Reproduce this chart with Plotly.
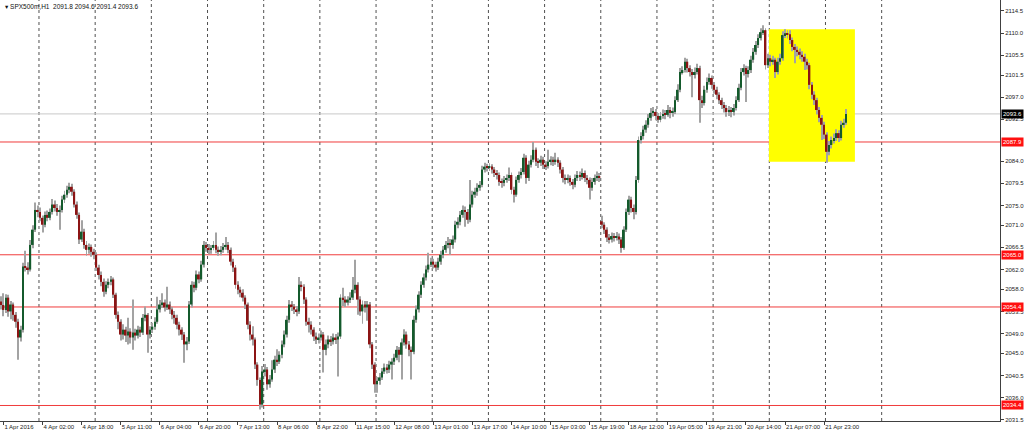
import plotly.graph_objects as go

symbol = "SPX500m,H1"

# H1 bars, one row per trading day (1 Apr partial, 22 Apr partial)
open_ = [
    2055.5, 2054.8, 2053.8, 2056.3, 2053.5, 2054.9, 2052.8, 2051.4, 2048.2, 2049.8, 2062.6, 2062.4, 2062.0, 2067.0, 2070.1, 2074.1,
    2073.7, 2072.5, 2071.1, 2073.1, 2072.5, 2073.7, 2075.2, 2074.5, 2073.7, 2074.1, 2076.2, 2077.2, 2078.2, 2078.8, 2077.8, 2075.2, 2073.1, 2068.1, 2069.7, 2067.0, 2066.0, 2066.6, 2065.6,
    2065.0, 2062.4, 2060.9, 2059.5, 2057.5, 2058.9, 2059.5, 2060.0, 2056.9, 2052.8, 2051.4, 2048.8, 2049.8, 2048.6, 2049.4, 2048.2, 2049.2, 2048.6, 2049.8, 2049.2, 2052.2, 2052.8, 2048.8,
    2049.8, 2050.4, 2051.4, 2053.9, 2054.9, 2055.3, 2054.3, 2054.9, 2053.9, 2052.8, 2052.2, 2050.8, 2049.8, 2048.8, 2046.8, 2047.4, 2054.9, 2058.9, 2058.3, 2061.0, 2060.0, 2063.0, 2067.0,
    2066.4, 2066.0, 2066.4, 2067.0, 2066.0, 2065.6, 2066.0, 2066.6, 2067.0, 2066.0, 2063.6, 2062.4, 2058.9, 2057.9, 2057.3, 2056.3, 2054.9, 2050.8, 2048.8, 2047.8, 2042.7, 2039.6, 2034.6,
    2041.3, 2041.7, 2038.7, 2039.7, 2041.7, 2043.7, 2043.3, 2044.7, 2046.8, 2048.8, 2051.8, 2054.9, 2054.5, 2053.9, 2053.5, 2058.9, 2058.5, 2055.9, 2051.4, 2050.8, 2049.8, 2048.4, 2047.8,
    2048.2, 2048.8, 2045.7, 2046.8, 2047.8, 2047.4, 2048.2, 2047.8, 2048.4, 2056.3, 2055.9, 2055.3, 2055.9, 2056.3, 2057.9, 2058.9, 2055.9, 2053.5, 2054.9, 2054.3, 2054.9, 2046.8, 2042.7,
    2038.7, 2039.4, 2040.1, 2041.3, 2042.1, 2041.7, 2042.7, 2043.3, 2044.1, 2045.7, 2044.7, 2047.2, 2048.8, 2046.8, 2045.7, 2045.3, 2051.8, 2053.9, 2056.9, 2058.9, 2060.4, 2062.0, 2063.0,
    2063.6, 2063.0, 2062.4, 2063.6, 2065.0, 2066.0, 2067.0, 2067.4, 2067.0, 2068.1, 2071.1, 2071.7, 2073.1, 2074.1, 2073.7, 2072.1, 2075.2, 2077.2, 2077.8, 2078.6, 2079.2, 2082.3, 2082.9,
    2082.7, 2082.9, 2082.3, 2081.6, 2081.2, 2079.8, 2079.6, 2080.2, 2080.6, 2081.2, 2078.2, 2077.2, 2080.2, 2081.2, 2081.8, 2084.7, 2080.6, 2083.3, 2084.3, 2086.3, 2083.9, 2083.7, 2084.3,
    2083.3, 2083.0, 2083.9, 2084.3, 2083.9, 2084.3, 2083.7, 2082.3, 2080.6, 2080.2, 2080.6, 2079.8, 2079.2, 2080.6, 2081.2, 2080.8, 2081.6, 2080.6, 2080.2, 2078.6, 2079.8, 2080.6, 2081.0,
    2071.8, 2071.1, 2070.1, 2068.5, 2068.1, 2068.8, 2068.5, 2068.7, 2068.1, 2066.4, 2070.1, 2073.7, 2076.2, 2074.5, 2073.7, 2080.2, 2088.3, 2089.1, 2090.4, 2091.4, 2092.8, 2093.8, 2094.0,
    2093.2, 2092.4, 2093.2, 2093.6, 2093.4, 2094.4, 2093.8, 2094.0, 2096.4, 2098.5, 2102.1, 2102.5, 2104.2, 2102.9, 2102.1, 2101.5, 2102.1, 2102.9, 2096.4, 2095.8, 2098.5, 2100.1, 2100.9,
    2099.5, 2098.5, 2097.5, 2096.4, 2095.4, 2094.8, 2094.0, 2094.4, 2094.0, 2094.8, 2096.4, 2098.9, 2102.1, 2102.9, 2101.7, 2102.5, 2104.6, 2106.2, 2107.6, 2109.0, 2110.2, 2110.6, 2103.5,
    2104.9, 2104.2, 2104.6, 2102.1, 2104.2, 2104.9, 2109.6, 2110.0, 2109.8, 2108.6, 2107.2, 2106.6, 2106.2, 2105.6, 2105.2, 2104.2, 2103.5, 2099.5, 2097.5, 2096.4, 2094.4, 2092.8, 2091.4,
    2089.4, 2085.9, 2087.3, 2088.3, 2088.7, 2089.7, 2088.7, 2091.4, 2091.8,
]

high = [
    2056.6, 2057.2, 2057.0, 2056.9, 2055.6, 2055.3, 2053.4, 2052.0, 2050.6, 2063.4, 2065.8, 2063.5, 2068.0, 2071.0, 2075.6, 2075.0,
    2074.6, 2073.0, 2073.8, 2074.0, 2074.4, 2076.3, 2076.0, 2075.3, 2075.0, 2077.0, 2078.0, 2079.0, 2079.6, 2079.4, 2078.3, 2075.8, 2073.6, 2072.0, 2070.3, 2067.8, 2067.3, 2067.1, 2066.2,
    2065.5, 2063.0, 2061.6, 2060.2, 2059.6, 2060.2, 2060.7, 2060.4, 2057.3, 2053.5, 2051.9, 2050.9, 2050.4, 2052.2, 2050.1, 2055.9, 2050.0, 2050.6, 2050.4, 2053.0, 2054.5, 2053.2, 2050.5,
    2051.2, 2052.3, 2056.5, 2055.8, 2057.2, 2055.9, 2058.5, 2055.5, 2054.4, 2053.6, 2052.8, 2051.4, 2050.3, 2049.3, 2048.3, 2055.6, 2059.6, 2059.5, 2061.8, 2061.6, 2063.8, 2067.8, 2067.6,
    2067.2, 2067.0, 2067.8, 2069.5, 2066.7, 2066.8, 2067.4, 2068.6, 2067.6, 2066.5, 2064.2, 2062.9, 2059.6, 2058.5, 2058.0, 2056.8, 2055.3, 2051.5, 2050.5, 2048.2, 2043.2, 2040.1, 2042.4,
    2042.8, 2042.2, 2040.6, 2043.6, 2044.5, 2045.8, 2045.4, 2047.6, 2049.6, 2052.6, 2055.8, 2055.6, 2055.0, 2054.6, 2060.5, 2059.6, 2059.0, 2056.4, 2052.2, 2051.5, 2050.3, 2049.2, 2049.0,
    2049.6, 2049.3, 2047.8, 2048.6, 2048.5, 2049.0, 2048.9, 2049.2, 2057.0, 2058.3, 2056.6, 2056.6, 2057.4, 2060.5, 2064.0, 2059.4, 2056.6, 2055.7, 2055.6, 2055.6, 2055.4, 2047.3, 2043.2,
    2040.2, 2041.0, 2042.0, 2042.9, 2042.8, 2043.5, 2044.0, 2044.9, 2046.5, 2046.3, 2048.0, 2049.9, 2049.4, 2047.5, 2046.4, 2052.6, 2054.7, 2057.6, 2059.6, 2061.2, 2062.8, 2065.4, 2064.4,
    2064.2, 2063.6, 2064.4, 2065.8, 2066.8, 2067.8, 2068.6, 2068.2, 2068.9, 2071.9, 2072.6, 2073.9, 2075.0, 2074.8, 2074.3, 2080.2, 2078.0, 2078.6, 2079.5, 2080.0, 2083.1, 2083.7, 2083.5,
    2083.6, 2083.4, 2082.8, 2082.2, 2081.7, 2080.5, 2081.0, 2081.3, 2082.7, 2081.7, 2078.8, 2080.9, 2081.9, 2082.6, 2085.5, 2085.2, 2084.1, 2085.2, 2087.9, 2086.8, 2084.6, 2085.1, 2084.9,
    2084.0, 2086.3, 2085.0, 2084.9, 2085.7, 2084.8, 2084.2, 2082.8, 2081.3, 2081.3, 2081.1, 2080.4, 2081.3, 2082.0, 2081.9, 2082.5, 2082.1, 2081.2, 2080.7, 2080.6, 2081.3, 2081.9, 2081.6,
    2072.9, 2071.6, 2070.6, 2069.2, 2069.5, 2069.4, 2069.6, 2069.3, 2068.6, 2070.8, 2074.4, 2077.0, 2076.8, 2075.2, 2081.0, 2089.0, 2089.9, 2091.2, 2092.3, 2093.6, 2094.8, 2095.0, 2094.6,
    2093.8, 2094.0, 2094.5, 2094.4, 2095.4, 2095.0, 2094.9, 2097.2, 2099.6, 2102.9, 2103.3, 2105.0, 2104.8, 2103.5, 2102.7, 2103.0, 2103.8, 2103.4, 2097.3, 2099.3, 2101.0, 2101.8, 2101.4,
    2100.1, 2099.1, 2098.0, 2096.9, 2096.0, 2095.4, 2095.2, 2095.0, 2095.6, 2097.2, 2099.7, 2102.9, 2103.7, 2103.4, 2103.3, 2105.4, 2107.0, 2108.4, 2109.8, 2111.0, 2111.6, 2111.0, 2105.8,
    2105.6, 2105.4, 2105.0, 2105.0, 2105.8, 2110.4, 2110.8, 2110.6, 2110.6, 2109.1, 2107.8, 2107.3, 2106.9, 2106.3, 2105.8, 2104.8, 2104.0, 2100.1, 2098.2, 2096.9, 2095.0, 2093.4, 2092.0,
    2089.9, 2088.1, 2089.0, 2089.6, 2090.5, 2090.3, 2092.2, 2092.6, 2094.6,
]

low = [
    2053.9, 2052.5, 2053.2, 2052.4, 2051.9, 2051.6, 2050.2, 2043.7, 2047.4, 2049.2, 2061.6, 2061.0, 2061.6, 2066.3, 2069.6, 2072.6,
    2071.8, 2069.5, 2070.6, 2071.8, 2072.0, 2073.2, 2073.8, 2072.9, 2070.1, 2073.6, 2075.5, 2076.6, 2077.5, 2077.0, 2074.6, 2072.3, 2067.2, 2067.6, 2066.2, 2064.8, 2065.2, 2064.6, 2064.1,
    2061.7, 2060.0, 2058.6, 2056.5, 2057.0, 2058.2, 2058.8, 2056.2, 2052.0, 2049.9, 2047.6, 2047.8, 2047.3, 2046.8, 2047.0, 2045.7, 2047.6, 2048.0, 2048.3, 2048.7, 2051.5, 2045.1, 2048.0,
    2049.1, 2049.8, 2051.0, 2053.3, 2054.2, 2053.5, 2053.8, 2053.0, 2051.9, 2051.0, 2049.9, 2048.6, 2047.7, 2043.1, 2045.6, 2046.9, 2054.3, 2057.4, 2057.8, 2059.2, 2059.5, 2062.4, 2065.6,
    2065.1, 2065.2, 2065.9, 2065.3, 2064.8, 2064.9, 2065.4, 2066.0, 2065.3, 2062.8, 2061.5, 2058.1, 2057.0, 2056.4, 2055.5, 2054.0, 2049.9, 2047.6, 2046.6, 2041.8, 2038.4, 2033.6, 2034.0,
    2040.3, 2037.6, 2038.0, 2039.2, 2041.0, 2042.4, 2042.8, 2044.0, 2046.2, 2048.2, 2051.2, 2053.6, 2053.0, 2052.5, 2053.0, 2057.6, 2055.0, 2050.6, 2049.2, 2048.8, 2047.5, 2046.9, 2047.0,
    2047.6, 2041.1, 2044.6, 2046.0, 2046.5, 2046.8, 2046.9, 2040.3, 2047.9, 2054.6, 2054.4, 2054.7, 2055.2, 2055.8, 2057.2, 2052.8, 2052.6, 2051.0, 2053.3, 2051.6, 2046.0, 2041.8, 2037.0,
    2037.0, 2038.6, 2039.6, 2040.8, 2040.9, 2041.0, 2039.7, 2042.6, 2043.6, 2043.2, 2039.7, 2046.6, 2045.9, 2044.4, 2039.7, 2044.8, 2051.2, 2053.3, 2056.2, 2058.3, 2059.8, 2061.4, 2062.5,
    2062.2, 2061.6, 2061.9, 2063.0, 2064.3, 2065.4, 2066.3, 2065.0, 2066.2, 2067.5, 2070.4, 2071.0, 2072.5, 2070.7, 2071.3, 2071.6, 2074.6, 2076.6, 2077.0, 2078.0, 2078.7, 2081.7, 2081.9,
    2082.0, 2081.5, 2080.8, 2080.3, 2079.0, 2078.6, 2078.9, 2079.6, 2080.0, 2077.3, 2075.6, 2076.8, 2079.6, 2080.5, 2081.3, 2079.4, 2080.0, 2082.7, 2083.8, 2083.0, 2082.6, 2083.0, 2082.4,
    2082.2, 2082.5, 2083.2, 2083.0, 2083.3, 2082.8, 2081.5, 2079.7, 2079.3, 2079.5, 2079.0, 2078.3, 2078.7, 2080.0, 2080.0, 2080.3, 2079.8, 2079.3, 2076.2, 2078.0, 2079.2, 2080.0, 2079.8,
    2070.4, 2069.2, 2067.6, 2067.3, 2067.5, 2067.7, 2067.9, 2067.2, 2065.4, 2066.0, 2069.6, 2073.1, 2073.6, 2072.2, 2073.2, 2079.6, 2087.6, 2088.4, 2089.8, 2090.8, 2092.2, 2093.1, 2092.3,
    2091.8, 2091.9, 2092.6, 2092.5, 2093.0, 2092.7, 2093.0, 2093.6, 2096.0, 2098.0, 2101.6, 2102.0, 2102.0, 2101.2, 2097.0, 2100.8, 2101.6, 2091.8, 2094.8, 2095.3, 2097.9, 2099.5, 2098.7,
    2097.7, 2096.6, 2095.6, 2094.6, 2093.9, 2093.0, 2093.2, 2092.9, 2093.3, 2094.3, 2096.0, 2098.4, 2101.4, 2096.0, 2101.0, 2101.9, 2104.0, 2105.6, 2107.0, 2108.5, 2109.6, 2102.6, 2102.9,
    2103.3, 2103.6, 2100.9, 2101.6, 2103.6, 2104.4, 2109.0, 2108.9, 2107.8, 2106.3, 2103.9, 2105.3, 2104.7, 2104.2, 2102.5, 2102.6, 2098.6, 2096.6, 2095.4, 2093.5, 2091.9, 2088.3, 2088.5,
    2083.7, 2085.2, 2086.6, 2087.6, 2088.1, 2087.9, 2088.2, 2090.8, 2091.4,
]

close = [
    2054.8, 2053.8, 2056.3, 2053.5, 2054.9, 2052.8, 2051.4, 2048.2, 2049.8, 2062.6, 2062.4, 2062.0, 2067.0, 2070.1, 2074.1, 2073.7,
    2072.5, 2071.1, 2073.1, 2072.5, 2073.7, 2075.2, 2074.5, 2073.7, 2074.1, 2076.2, 2077.2, 2078.2, 2078.8, 2077.8, 2075.2, 2073.1, 2068.1, 2069.7, 2067.0, 2066.0, 2066.6, 2065.6, 2065.0,
    2062.4, 2060.9, 2059.5, 2057.5, 2058.9, 2059.5, 2060.0, 2056.9, 2052.8, 2051.4, 2048.8, 2049.8, 2048.6, 2049.4, 2048.2, 2049.2, 2048.6, 2049.8, 2049.2, 2052.2, 2052.8, 2048.8, 2049.8,
    2050.4, 2051.4, 2053.9, 2054.9, 2055.3, 2054.3, 2054.9, 2053.9, 2052.8, 2052.2, 2050.8, 2049.8, 2048.8, 2046.8, 2047.4, 2054.9, 2058.9, 2058.3, 2061.0, 2060.0, 2063.0, 2067.0, 2066.4,
    2066.0, 2066.4, 2067.0, 2066.0, 2065.6, 2066.0, 2066.6, 2067.0, 2066.0, 2063.6, 2062.4, 2058.9, 2057.9, 2057.3, 2056.3, 2054.9, 2050.8, 2048.8, 2047.8, 2042.7, 2039.6, 2034.6, 2041.3,
    2041.7, 2038.7, 2039.7, 2041.7, 2043.7, 2043.3, 2044.7, 2046.8, 2048.8, 2051.8, 2054.9, 2054.5, 2053.9, 2053.5, 2058.9, 2058.5, 2055.9, 2051.4, 2050.8, 2049.8, 2048.4, 2047.8, 2048.2,
    2048.8, 2045.7, 2046.8, 2047.8, 2047.4, 2048.2, 2047.8, 2048.4, 2056.3, 2055.9, 2055.3, 2055.9, 2056.3, 2057.9, 2058.9, 2055.9, 2053.5, 2054.9, 2054.3, 2054.9, 2046.8, 2042.7, 2038.7,
    2039.4, 2040.1, 2041.3, 2042.1, 2041.7, 2042.7, 2043.3, 2044.1, 2045.7, 2044.7, 2047.2, 2048.8, 2046.8, 2045.7, 2045.3, 2051.8, 2053.9, 2056.9, 2058.9, 2060.4, 2062.0, 2063.0, 2063.6,
    2063.0, 2062.4, 2063.6, 2065.0, 2066.0, 2067.0, 2067.4, 2067.0, 2068.1, 2071.1, 2071.7, 2073.1, 2074.1, 2073.7, 2072.1, 2075.2, 2077.2, 2077.8, 2078.6, 2079.2, 2082.3, 2082.9, 2082.7,
    2082.9, 2082.3, 2081.6, 2081.2, 2079.8, 2079.6, 2080.2, 2080.6, 2081.2, 2078.2, 2077.2, 2080.2, 2081.2, 2081.8, 2084.7, 2080.6, 2083.3, 2084.3, 2086.3, 2083.9, 2083.7, 2084.3, 2083.3,
    2083.0, 2083.9, 2084.3, 2083.9, 2084.3, 2083.7, 2082.3, 2080.6, 2080.2, 2080.6, 2079.8, 2079.2, 2080.6, 2081.2, 2080.8, 2081.6, 2080.6, 2080.2, 2078.6, 2079.8, 2080.6, 2081.0, 2080.6,
    2071.1, 2070.1, 2068.5, 2068.1, 2068.8, 2068.5, 2068.7, 2068.1, 2066.4, 2070.1, 2073.7, 2076.2, 2074.5, 2073.7, 2080.2, 2088.3, 2089.1, 2090.4, 2091.4, 2092.8, 2093.8, 2094.0, 2093.2,
    2092.4, 2093.2, 2093.6, 2093.4, 2094.4, 2093.8, 2094.0, 2096.4, 2098.5, 2102.1, 2102.5, 2104.2, 2102.9, 2102.1, 2101.5, 2102.1, 2102.9, 2096.4, 2095.8, 2098.5, 2100.1, 2100.9, 2099.5,
    2098.5, 2097.5, 2096.4, 2095.4, 2094.8, 2094.0, 2094.4, 2094.0, 2094.8, 2096.4, 2098.9, 2102.1, 2102.9, 2101.7, 2102.5, 2104.6, 2106.2, 2107.6, 2109.0, 2110.2, 2110.6, 2103.5, 2104.9,
    2104.2, 2104.6, 2102.1, 2104.2, 2104.9, 2109.6, 2110.0, 2109.8, 2108.6, 2107.2, 2106.6, 2106.2, 2105.6, 2105.2, 2104.2, 2103.5, 2099.5, 2097.5, 2096.4, 2094.4, 2092.8, 2091.4, 2089.4,
    2085.9, 2087.3, 2088.3, 2088.7, 2089.7, 2088.7, 2091.4, 2091.8, 2093.6,
]

x_labels = ["1 Apr 2016", "4 Apr 02:00", "4 Apr 18:00", "5 Apr 11:00", "6 Apr 04:00", "6 Apr 20:00",
            "7 Apr 13:00", "8 Apr 06:00", "8 Apr 22:00", "11 Apr 15:00", "12 Apr 08:00", "13 Apr 01:00",
            "13 Apr 17:00", "14 Apr 10:00", "15 Apr 03:00", "15 Apr 19:00", "18 Apr 12:00", "19 Apr 05:00",
            "19 Apr 21:00", "20 Apr 14:00", "21 Apr 07:00", "21 Apr 23:00"]

# visible price scale labels (the one hidden under the 2087.9 marker is left out)
y_ticks = [2114.5, 2110.0, 2105.5, 2101.5, 2097.0, 2092.5, 2084.0, 2079.5, 2075.0, 2071.0,
           2066.5, 2062.0, 2058.0, 2053.5, 2049.0, 2045.0, 2040.5, 2036.0, 2031.5]

levels = [2087.9, 2065.0, 2054.4, 2034.4]
zone_prices = [2083.9, 2110.8]

# ---- layout helpers (positions / styles) ----
FIRST_DAY_BARS = 16
BARS_PER_DAY = 23
LABEL_STEP = 16
N_SEPARATORS = 16
BULL, BEAR, WICK = "#145a2c", "#8c1414", "#a3a3a3"
FONT = "Liberation Sans, Arial, DejaVu Sans"

idx = list(range(len(close)))
label_bars = [1 + LABEL_STEP * k for k in range(len(x_labels))]
sep_x = [FIRST_DAY_BARS + BARS_PER_DAY * k - 0.45 for k in range(N_SEPARATORS)]

body_base = [min(o, c) for o, c in zip(open_, close)]
body_len = [max(abs(c - o), 0.12) for o, c in zip(open_, close)]
body_col = [BULL if c >= o else BEAR for o, c in zip(open_, close)]

fig = go.Figure()
fig.add_trace(go.Bar(x=idx, base=low, y=[h - l for h, l in zip(high, low)], width=0.4,
                     marker=dict(color=WICK, line=dict(width=0)), hoverinfo="skip"))
fig.add_trace(go.Bar(x=idx, base=body_base, y=body_len, width=0.72,
                     marker=dict(color=body_col, line=dict(width=0)), hoverinfo="skip"))

shapes = []
# highlighted zone (last bars)
shapes.append(dict(type="rect", xref="x", yref="y", x0=314.4, x1=349.6,
                   y0=zone_prices[0], y1=zone_prices[1], fillcolor="#ffff00",
                   line=dict(width=0), layer="below"))
# day separators
for sx in sep_x:
    shapes.append(dict(type="line", xref="x", yref="paper", x0=sx, x1=sx, y0=0, y1=1,
                       line=dict(color="#505050", width=1, dash="dot"), layer="below"))
# bid line
shapes.append(dict(type="line", xref="paper", yref="y", x0=0, x1=1, y0=close[-1], y1=close[-1],
                   line=dict(color="#c8c8c8", width=1), layer="below"))
# horizontal levels
for lv in levels:
    shapes.append(dict(type="line", xref="paper", yref="y", x0=0, x1=1, y0=lv, y1=lv,
                       line=dict(color="#f03c3c", width=1), layer="below"))

annotations = []
for lv in levels:
    annotations.append(dict(xref="paper", yref="y", x=1, y=lv, xanchor="left", yanchor="middle",
                            text=f"{lv:.1f}", showarrow=False, bgcolor="#ff1010", borderpad=1,
                            font=dict(color="white", size=6, family=FONT), xshift=1))
annotations.append(dict(xref="paper", yref="y", x=1, y=close[-1], xanchor="left", yanchor="middle",
                        text=f"{close[-1]:.1f}", showarrow=False, bgcolor="#000000", borderpad=1,
                        font=dict(color="white", size=6, family=FONT), xshift=1))
annotations.append(dict(xref="paper", yref="paper", x=0, y=1, xanchor="left", yanchor="top",
                        text=f"\u25be {symbol}  {open_[-1]:.1f} {high[-1]:.1f} {low[-1]:.1f} {close[-1]:.1f}",
                        showarrow=False, xshift=3, yshift=-1,
                        font=dict(color="#111111", size=6.5, family=FONT)))

fig.update_layout(
    width=1024, height=435, autosize=False,
    margin=dict(l=0, r=24, t=0, b=14),
    plot_bgcolor="white", paper_bgcolor="white",
    barmode="overlay", showlegend=False,
    shapes=shapes, annotations=annotations,
    xaxis=dict(range=[-0.41, 409.0], showgrid=False, zeroline=False, automargin=False,
               showline=True, linecolor="#404040", linewidth=1, mirror=False,
               tickmode="array", tickvals=label_bars, ticktext=x_labels, tickangle=0,
               ticks="outside", ticklen=3, tickcolor="#404040",
               ticklabelposition="outside right",
               tickfont=dict(size=6, color="#222222", family=FONT)),
    yaxis=dict(range=[2031.25, 2116.73], side="right", showgrid=False, zeroline=False, automargin=False,
               showline=True, linecolor="#404040", linewidth=1, mirror=True,
               tickmode="array", tickvals=y_ticks, ticktext=[f"{v:.1f}" for v in y_ticks],
               ticks="outside", ticklen=3, tickcolor="#404040",
               tickfont=dict(size=6, color="#222222", family=FONT)),
)

fig.write_html("out.html", config={"displayModeBar": False},
               post_script="document.body.style.margin='0';document.body.style.overflow='hidden';")
